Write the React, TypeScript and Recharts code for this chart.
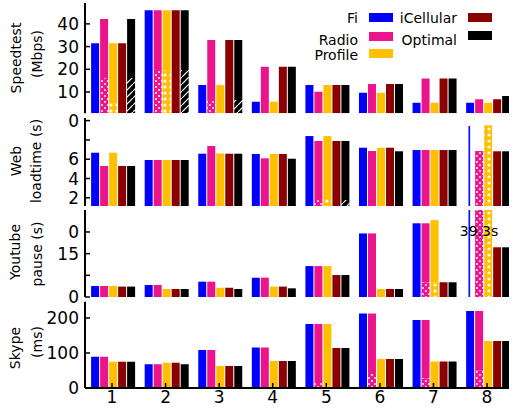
import React from 'react';
import { BarChart, Bar, XAxis, YAxis } from 'recharts';

const groups = [1, 2, 3, 4, 5, 6, 7, 8];

// Speedtest (Mbps)
const speedFi = [31.5, 46, 13.1, 5.7, 13.1, 9.7, 5.3, 5.3];
const speedRadio = [42.2, 46, 32.9, 21.1, 10.1, 13.5, 15.9, 6.8];
const speedProfile = [31.5, 46, 13.1, 5.7, 13.1, 9.7, 5.3, 5.3];
const speedICellular = [31.5, 46, 32.9, 21.1, 13.1, 13.5, 15.9, 6.8];
const speedOptimal = [42.2, 46, 32.9, 21.1, 13.1, 13.5, 15.9, 8.2];
const speedFiPat = [0, 0, 0, 0, 0, 0, 0, 0];
const speedRadioPat = [16.2, 19.7, 6.5, 0, 0, 0, 0, 0];
const speedProfilePat = [5, 19.7, 0, 0, 0, 0, 0, 0];
const speedOptimalPat = [16.2, 19.7, 6.5, 0, 0, 0, 0, 0];

// Web loadtime (s)
const webFi = [6.67, 5.92, 6.57, 6.54, 8.4, 7.19, 6.95, 9.44];
const webRadio = [5.3, 5.92, 7.37, 6.09, 7.89, 6.85, 6.95, 6.85];
const webProfile = [6.67, 5.92, 6.6, 6.54, 8.4, 7.19, 6.95, 9.51];
const webICellular = [5.3, 5.92, 6.57, 6.54, 7.89, 7.19, 6.95, 6.82];
const webOptimal = [5.3, 5.92, 6.57, 6.05, 7.89, 6.82, 6.95, 6.82];
const webFiPat = [0, 0, 0, 0, 0, 0, 0, 9.44];
const webRadioPat = [0, 0, 0, 0, 1.77, 0, 0, 6.85];
const webProfilePat = [0, 0, 0, 0, 2.08, 0, 0, 9.51];
const webOptimalPat = [0, 0, 0, 0, 1.77, 0, 0, 0];

// Youtube pause (s)
const ytFi = [3.8, 4.15, 5.3, 6.7, 10.7, 22.0, 25.5, 39.3];
const ytRadio = [3.8, 4.15, 5.3, 6.7, 10.7, 22.0, 25.5, 39.3];
const ytProfile = [3.8, 2.77, 3.2, 3.6, 10.7, 2.77, 26.6, 39.3];
const ytICellular = [3.6, 2.77, 3.2, 3.6, 7.6, 2.77, 5.1, 17.2];
const ytOptimal = [3.6, 2.77, 2.77, 3.0, 7.6, 2.77, 5.1, 17.2];
const ytFiPat = [0, 0, 0, 0, 0, 0, 0, 39.3];
const ytRadioPat = [0, 0, 0, 0, 0, 0, 5.1, 39.3];
const ytProfilePat = [0, 0, 0, 0, 0, 0, 5.1, 39.3];
const ytOptimalPat = [0, 0, 0, 0, 0, 0, 0, 0];

// Skype (ms)
const skFi = [89.5, 67.6, 108.6, 116, 183, 213, 194, 220];
const skRadio = [89.5, 67.6, 108.6, 116, 183, 213, 194, 220];
const skProfile = [75, 72.4, 62.9, 77, 183, 83, 76, 134];
const skICellular = [75, 72.4, 62.9, 77, 114, 83, 76, 134];
const skOptimal = [75, 67.6, 62.9, 77, 114, 83, 76, 134];
const skFiPat = [0, 0, 0, 0, 0, 0, 0, 0];
const skRadioPat = [0, 0, 0, 0, 14, 43, 28, 51];
const skProfilePat = [0, 0, 0, 0, 14, 0, 0, 0];
const skOptimalPat = [0, 0, 0, 0, 0, 0, 0, 0];

const BLUE = '#0000ff';
const PINK = '#ec148c';
const ORANGE = '#ffc000';
const DARKRED = '#8b0000';
const BLACK = '#000000';
const FONT = 'DejaVu Sans, sans-serif';

function buildRows(
  fi: number[], radio: number[], profile: number[], icell: number[], opt: number[],
  fiP: number[], radioP: number[], profileP: number[], optP: number[]
) {
  return groups.map((g, i) => ({
    x: g,
    fiP: fiP[i],
    fiS: fi[i] - fiP[i],
    radioP: radioP[i],
    radioS: radio[i] - radioP[i],
    profileP: profileP[i],
    profileS: profile[i] - profileP[i],
    icellS: icell[i],
    optP: optP[i],
    optS: opt[i] - optP[i],
  }));
}

const speedRows = buildRows(speedFi, speedRadio, speedProfile, speedICellular, speedOptimal,
  speedFiPat, speedRadioPat, speedProfilePat, speedOptimalPat);
const webRows = buildRows(webFi, webRadio, webProfile, webICellular, webOptimal,
  webFiPat, webRadioPat, webProfilePat, webOptimalPat);
const ytRows = buildRows(ytFi, ytRadio, ytProfile, ytICellular, ytOptimal,
  ytFiPat, ytRadioPat, ytProfilePat, ytOptimalPat);
const skRows = buildRows(skFi, skRadio, skProfile, skICellular, skOptimal,
  skFiPat, skRadioPat, skProfilePat, skOptimalPat);

interface PanelProps {
  id: string;
  rows: any[];
  top: number;
  bottom: number;
  domain: [number, number];
  ticks: number[];
  fmt?: (v: number) => string;
  showX?: boolean;
}

const axisLine = { stroke: '#000', strokeWidth: 2 };
const tickLine = { stroke: '#000', strokeWidth: 1.5 };
const tickStyle = { fill: '#000', fontSize: 17, fontFamily: FONT };
const blank = () => '';

function Panel({ id, rows, top, bottom, domain, ticks, fmt, showX }: PanelProps) {
  const xh = showX ? 20 : 0;
  return (
    <div style={{ position: 'absolute', left: 0, top: 0 }}>
      <BarChart
        width={513}
        height={409}
        data={rows}
        margin={{ top, left: 55, right: 4, bottom: 409 - bottom - xh }}
        barGap={1}
        barCategoryGap='11%'
      >
        <defs>
          <pattern id={`${id}-fi`} patternUnits='objectBoundingBox' patternContentUnits='objectBoundingBox' width={1} height={1}>
            <rect x={0.3} y={0} width={0.2} height={1} fill={BLUE} />
          </pattern>
          <pattern id={`${id}-x`} patternUnits='userSpaceOnUse' width={6} height={6}>
            <rect width={6} height={6} fill='#fff' />
            <path d='M0,0 L6,6 M6,0 L0,6' stroke={PINK} strokeWidth={2.6} />
          </pattern>
          <pattern id={`${id}-o`} patternUnits='userSpaceOnUse' width={6} height={6}>
            <rect width={6} height={6} fill={ORANGE} />
            <circle cx={3} cy={3} r={1.6} fill='#fff' />
          </pattern>
          <pattern id={`${id}-h`} patternUnits='userSpaceOnUse' width={7} height={7}>
            <rect width={7} height={7} fill={BLACK} />
            <path d='M0,7 L7,0' stroke='#fff' strokeWidth={1.2} />
          </pattern>
        </defs>
        <XAxis
          xAxisId='b'
          dataKey='x'
          type='number'
          domain={[0.496, 8.41]}
          ticks={groups}
          allowDataOverflow
          height={xh}
          tickSize={-5}
          tickMargin={8}
          axisLine={axisLine}
          tickLine={tickLine}
          tick={tickStyle}
          tickFormatter={showX ? undefined : blank}
          interval={0}
        />
        <XAxis
          xAxisId='t'
          orientation='top'
          type='number'
          domain={[0.496, 8.41]}
          ticks={groups}
          allowDataOverflow
          height={0}
          tickSize={-5}
          axisLine={axisLine}
          tickLine={tickLine}
          tickFormatter={blank}
          interval={0}
        />
        <YAxis
          yAxisId='l'
          type='number'
          domain={domain}
          ticks={ticks}
          allowDataOverflow
          width={30}
          tickSize={-5}
          tickMargin={11}
          axisLine={axisLine}
          tickLine={tickLine}
          tick={tickStyle}
          tickFormatter={fmt}
          interval={0}
        />
        <YAxis
          yAxisId='r'
          orientation='right'
          type='number'
          domain={domain}
          ticks={ticks}
          allowDataOverflow
          width={0}
          tickSize={-5}
          axisLine={axisLine}
          tickLine={tickLine}
          tickFormatter={blank}
          interval={0}
        />
        <Bar xAxisId='b' yAxisId='l' dataKey='fiP' stackId='fi' fill={`url(#${id}-fi)`} isAnimationActive={false} />
        <Bar xAxisId='b' yAxisId='l' dataKey='fiS' stackId='fi' fill={BLUE} isAnimationActive={false} />
        <Bar xAxisId='b' yAxisId='l' dataKey='radioP' stackId='radio' fill={`url(#${id}-x)`} isAnimationActive={false} />
        <Bar xAxisId='b' yAxisId='l' dataKey='radioS' stackId='radio' fill={PINK} isAnimationActive={false} />
        <Bar xAxisId='b' yAxisId='l' dataKey='profileP' stackId='profile' fill={`url(#${id}-o)`} isAnimationActive={false} />
        <Bar xAxisId='b' yAxisId='l' dataKey='profileS' stackId='profile' fill={ORANGE} isAnimationActive={false} />
        <Bar xAxisId='b' yAxisId='l' dataKey='icellS' stackId='icell' fill={DARKRED} isAnimationActive={false} />
        <Bar xAxisId='b' yAxisId='l' dataKey='optP' stackId='opt' fill={`url(#${id}-h)`} isAnimationActive={false} />
        <Bar xAxisId='b' yAxisId='l' dataKey='optS' stackId='opt' fill={BLACK} isAnimationActive={false} />
      </BarChart>
    </div>
  );
}

const webFmt = (v: number) => (v === 8 ? '' : v === 10 ? '0' : String(v));
const ytFmt = (v: number) => (v === 7.5 ? '' : v === 22.5 ? '0' : String(v));

const legendLeft = [
  { label: 'Fi', color: BLUE, y: 18, sy: 13 },
  { label: 'Radio', color: PINK, y: 40, sy: 32 },
  { label: 'Profile', color: ORANGE, y: 55, sy: 49 },
];
const legendRight = [
  { label: 'iCellular', color: DARKRED, y: 18, sy: 13 },
  { label: 'Optimal', color: BLACK, y: 40, sy: 31 },
];

const titles = [
  { text: 'Speedtest', x: 16, y: 58 },
  { text: '(Mbps)', x: 37, y: 54 },
  { text: 'Web', x: 16, y: 161 },
  { text: 'loadtime (s)', x: 36, y: 161 },
  { text: 'Youtube', x: 15, y: 252 },
  { text: 'pause (s)', x: 37, y: 254 },
  { text: 'Skype', x: 15, y: 348 },
  { text: '(ms)', x: 37, y: 342 },
];

export default function App() {
  return (
    <div style={{ position: 'absolute', left: 0, top: 0, width: 513, height: 409, background: '#fff' }}>
      <Panel id='sp' rows={speedRows} top={3} bottom={113.3} domain={[0.6, 49.2]} ticks={[10, 20, 30, 40]} />
      <Panel id='wb' rows={webRows} top={118} bottom={206} domain={[1.15, 10.27]} ticks={[2, 4, 6, 8, 10]} fmt={webFmt} />
      <Panel id='yt' rows={ytRows} top={210} bottom={297} domain={[0, 30.1]} ticks={[0, 7.5, 15, 22.5]} fmt={ytFmt} />
      <Panel id='sk' rows={skRows} top={301.7} bottom={388} domain={[0, 246.6]} ticks={[0, 100, 200]} showX />
      <svg width={513} height={409} style={{ position: 'absolute', left: 0, top: 0 }}>
        {legendLeft.map((d) => (
          <g key={d.label}>
            <text x={358} y={d.y} textAnchor='end' dominantBaseline='central' fontSize={14} fontFamily={FONT}>{d.label}</text>
            <rect x={369} y={d.sy} width={24} height={9} fill={d.color} />
          </g>
        ))}
        {legendRight.map((d) => (
          <g key={d.label}>
            <text x={457} y={d.y} textAnchor='end' dominantBaseline='central' fontSize={14} fontFamily={FONT}>{d.label}</text>
            <rect x={468} y={d.sy} width={24} height={9} fill={d.color} />
          </g>
        ))}
        {titles.map((t) => (
          <text
            key={t.text}
            transform={`translate(${t.x},${t.y}) rotate(-90)`}
            textAnchor='middle'
            dominantBaseline='central'
            fontSize={14}
            fontFamily={FONT}
          >
            {t.text}
          </text>
        ))}
        <text x={479} y={231} textAnchor='middle' dominantBaseline='central' fontSize={14} fontFamily={FONT}>39.3s</text>
      </svg>
    </div>
  );
}
